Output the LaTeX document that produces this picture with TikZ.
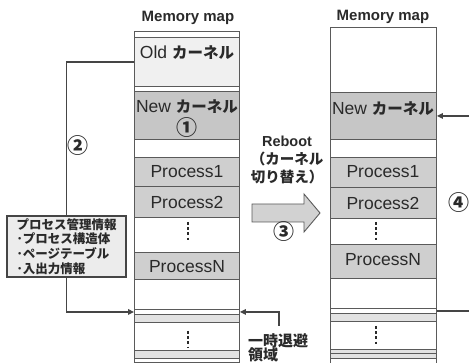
\documentclass[tikz,border=0pt]{standalone}
\usepackage{fontspec}
\setmainfont{Liberation Sans}
\newfontfamily\jp{Noto Sans CJK JP}
\usetikzlibrary{arrows.meta}
\definecolor{edge}{HTML}{5A5A5A}
\definecolor{wire}{HTML}{454545}
\definecolor{ink}{HTML}{2A2A2A}
\definecolor{oldfill}{HTML}{F0F0F0}
\definecolor{kfill}{HTML}{C6C6C6}
\definecolor{pfill}{HTML}{CFCFCF}
\definecolor{strip}{HTML}{E2E2E2}
\definecolor{infofill}{HTML}{ECECEC}
\definecolor{bigarrow}{HTML}{D2D2D2}
\newcommand\kernelword{{\jp\bfseries\fontsize{15.5}{18}\selectfont カーネル}}
\tikzset{
  cell/.style={draw=edge, line width=0.9pt, inner sep=0pt, anchor=north west, fill=white},
  lcell/.style={cell, minimum width=105pt},
  rcell/.style={cell, minimum width=106pt},
  proc/.style={font=\fontsize{17.5}{19}\selectfont, text=ink, inner sep=0pt},
  title/.style={font=\fontsize{15}{16}\selectfont\bfseries, text=ink, inner sep=0pt},
  num/.style={font=\jp\bfseries\fontsize{21}{22}\selectfont, text=ink, inner sep=0pt},
  wiring/.style={draw=wire, line width=1.3pt},
  arr/.style={wiring, -{Triangle[length=6pt,width=5.5pt]}},
  dotcol/.style={draw=ink, line width=2pt, dash pattern=on 2.6pt off 2.6pt},
}
\begin{document}
\begin{tikzpicture}[x=1pt,y=-1pt]
\useasboundingbox (0,0) rectangle (469,363);
\clip (0,0) rectangle (469,363);

% ---- memory map before the reboot ----
\node[title] (titleL) at (188,18) {Memory map};
\node[lcell, minimum height=6pt] (l0) at (134,31) {};
\node[lcell, minimum height=49pt, fill=oldfill] (oldk) at (134,37) {};
\node[lcell, minimum height=5pt] (l1) at (134,86) {};
\node[lcell, minimum height=48pt, fill=kfill] (newL) at (134,91) {};
\node[lcell, minimum height=18pt] (l2) at (134,139) {};
\node[lcell, minimum height=29pt, fill=pfill] (p1L) at (134,157) {};
\node[lcell, minimum height=31pt, fill=pfill] (p2L) at (134,186) {};
\node[lcell, minimum height=35pt] (dotsL) at (134,217) {};
\node[lcell, minimum height=27pt, fill=pfill] (pnL) at (134,252) {};
\node[lcell, minimum height=30pt] (l3) at (134,279) {};
\node[lcell, minimum height=5pt] (tmpA) at (134,309) {};
\node[lcell, minimum height=8pt, fill=strip] (l4) at (134,314) {};
\node[lcell, minimum height=28pt] (l5) at (134,322) {};
\node[lcell, minimum height=8pt, fill=strip] (l6) at (134,350) {};
\node[lcell, minimum height=4pt] (l7) at (134,358) {};
\node[lcell, minimum height=10pt, fill=strip] (l8) at (134,362) {};

\node[proc] (oldtxt) at (187,53) {Old \kernelword};
\node[proc] (newtxtL) at (187,107) {New \kernelword};
\node[num] (n1) at (187,128) {①};
\node[proc] at (187,172) {Process1};
\node[proc] at (187,202) {Process2};
\node[proc] at (187,267) {ProcessN};
\draw[dotcol] (188,222) -- (188,242);
\draw[dotcol] (188,331) -- (188,347);

% ---- memory map after the reboot ----
\node[title] (titleR) at (383,17) {Memory map};
\node[rcell, minimum height=65pt] (topR) at (330,27) {};
\node[rcell, minimum height=47pt, fill=kfill] (newR) at (330,92) {};
\node[rcell, minimum height=18pt] (r2) at (330,139) {};
\node[rcell, minimum height=30pt, fill=pfill] (p1R) at (330,157) {};
\node[rcell, minimum height=31pt, fill=pfill] (p2R) at (330,187) {};
\node[rcell, minimum height=26pt] (dotsR) at (330,218) {};
\node[rcell, minimum height=34pt, fill=pfill] (pnR) at (330,244) {};
\node[rcell, minimum height=30pt] (r3) at (330,278) {};
\node[rcell, minimum height=5pt] (tmpB) at (330,308) {};
\node[rcell, minimum height=8pt, fill=strip] (r4) at (330,313) {};
\node[rcell, minimum height=28pt] (r5) at (330,321) {};
\node[rcell, minimum height=4pt, fill=strip] (r6) at (330,349) {};
\node[rcell, minimum height=5pt, fill=strip] (r7) at (330,353) {};
\node[rcell, minimum height=12pt] (r8) at (330,358) {};

\node[proc] (newtxtR) at (383,109) {New \kernelword};
\node[proc] at (383,172) {Process1};
\node[proc] at (383,203) {Process2};
\node[proc] at (383,260) {ProcessN};
\draw[dotcol] (376,222) -- (376,242);
\draw[dotcol] (376,326) -- (376,344);

% ---- process management info saved across the reboot ----
\node[draw=wire, line width=1.3pt, fill=infofill, minimum width=119pt,
      minimum height=61pt, inner sep=0pt, align=left, text=ink,
      font=\jp\bfseries\fontsize{12.5}{14.8}\selectfont] (info) at (66.5,246.5)
  {プロセス管理情報\\･プロセス構造体\\･ページテーブル\\･入出力情報};
\draw[wiring] (oldk.west) -| (info.north);
\draw[arr] (info.south) |- (tmpA.west);
\node[num] (n2) at (78,146) {②};

% ---- reboot step ----
\node[align=center, text=ink, inner sep=0pt,
      font=\bfseries\fontsize{14.5}{18}\selectfont] (reboot) at (287,160)
  {Reboot\\{\jp\bfseries\fontsize{14.5}{18}\selectfont （カーネル}\\{\jp\bfseries\fontsize{14.5}{18}\selectfont 切り替え）}};
\draw[draw=edge, line width=0.9pt, fill=bigarrow]
  (252,204) -- (304,204) -- (304,194) -- (320,213) -- (304,232)
  -- (304,222) -- (252,222) -- cycle;
\node[num] (n3) at (284,232) {③};

% ---- temporary save area ----
\node[anchor=west, align=left, text=ink, inner sep=0pt,
      font=\jp\bfseries\fontsize{15}{14.5}\selectfont] (tmpnote) at (248,348)
  {一時退避\\領域};
\coordinate (tmpfoot) at (279,326);
\draw[arr] (tmpfoot) |- (tmpA.east);

% ---- restore into the new kernel ----
\draw[arr] (tmpB.east) -- ++(45,0) |- (newR.east);
\node[num] (n4) at (459,203) {④};
\end{tikzpicture}
\end{document}
